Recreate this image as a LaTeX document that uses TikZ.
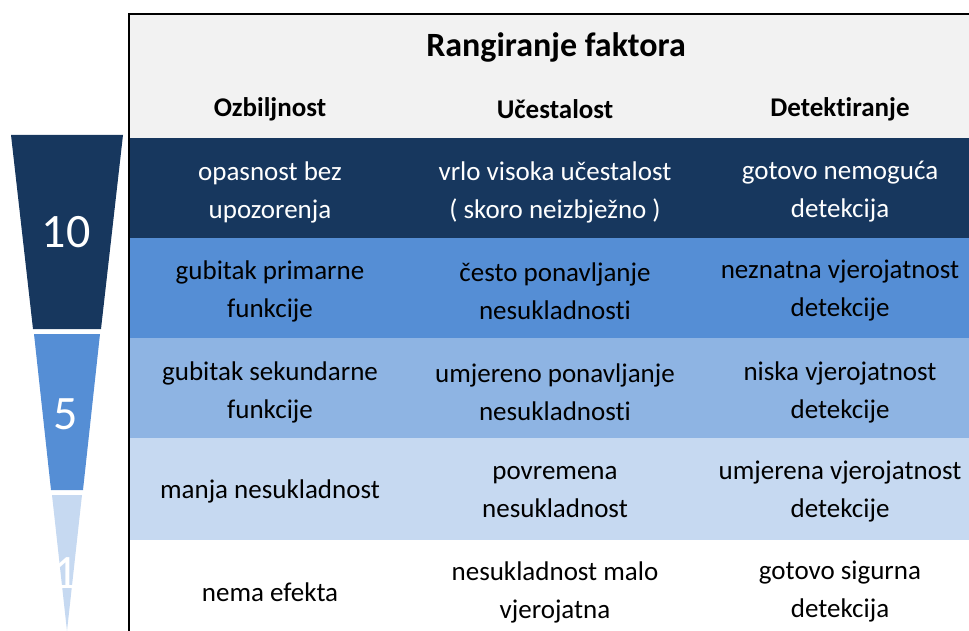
\documentclass[tikz,border=0pt]{standalone}
\usepackage{fontspec}
\setmainfont{Carlito}[RawFeature=-liga]
\usepackage{xcolor}
\usetikzlibrary{positioning}
\definecolor{navy}{HTML}{17375E}
\definecolor{midblue}{HTML}{558ED5}
\definecolor{lightblue}{HTML}{8EB4E3}
\definecolor{paleblue}{HTML}{C6D9F1}
\definecolor{headgrey}{HTML}{F2F2F2}
\begin{document}
\begin{tikzpicture}[x=1pt, y=-1pt]

\tikzstyle{cell} = [align=center, inner sep=0pt, font=\fontsize{27}{38}\selectfont]
\tikzstyle{head} = [cell, font=\fontsize{27}{38}\selectfont\bfseries]
\tikzstyle{rank} = [inner sep=0pt, text=white, font=\fontsize{48}{48}\selectfont]

\useasboundingbox (0,0) rectangle (969,631);

% row bands
\fill [headgrey] (129,14) rectangle (969,138);
\fill [navy] (129,138) rectangle (969,238);
\fill [midblue] (129,238) rectangle (969,338);
\fill [lightblue] (129,338) rectangle (969,438);
\fill [paleblue] (129,438) rectangle (969,540);
\draw [line width=2pt] (969,14) -- (129,14) -- (129,631);

% funnel
\fill [navy] (11,135) -- (123,135) -- (101,329) -- (33,329) -- cycle;
\fill [midblue] (34,334) -- (100,334) -- (83,490) -- (51,490) -- cycle;
\fill [paleblue] (52,495) -- (82,495) -- (67,631) -- cycle;
\node [rank] (r10) at (66,232) {10};
\node [rank] (r5) at (66,414) {5};
\node [rank] (r1) at (66,573) {1};

% header
\node [head, font=\fontsize{34}{40}\selectfont\bfseries] (title) at (556,47) {Rangiranje faktora};
\node [head] (h-sev) at (270,109) {Ozbiljnost};
\node [head] (h-occ) at (555,109) {Učestalost};
\node [head] (h-det) at (840,109) {Detektiranje};

% rows
\node [cell, text=white] (sev1) at (270,192) {opasnost bez\\upozorenja};
\node [cell, text=white] (occ1) at (555,192) {vrlo visoka učestalost\\( skoro neizbježno )};
\node [cell, text=white] (det1) at (840,192) {gotovo nemoguća\\detekcija};

\node [cell] (sev2) at (270,291) {gubitak primarne\\funkcije};
\node [cell] (occ2) at (555,291) {često ponavljanje\\nesukladnosti};
\node [cell] (det2) at (840,291) {neznatna vjerojatnost\\detekcije};

\node [cell] (sev3) at (270,392) {gubitak sekundarne\\funkcije};
\node [cell] (occ3) at (555,392) {umjereno ponavljanje\\nesukladnosti};
\node [cell] (det3) at (840,392) {niska vjerojatnost\\detekcije};

\node [cell] (sev4) at (270,491) {manja nesukladnost};
\node [cell] (occ4) at (555,492) {povremena\\nesukladnost};
\node [cell] (det4) at (840,492) {umjerena vjerojatnost\\detekcije};

\node [cell] (sev5) at (270,592) {nema efekta};
\node [cell] (occ5) at (555,592) {nesukladnost malo\\vjerojatna};
\node [cell] (det5) at (840,592) {gotovo sigurna\\detekcija};
\end{tikzpicture}
\end{document}
